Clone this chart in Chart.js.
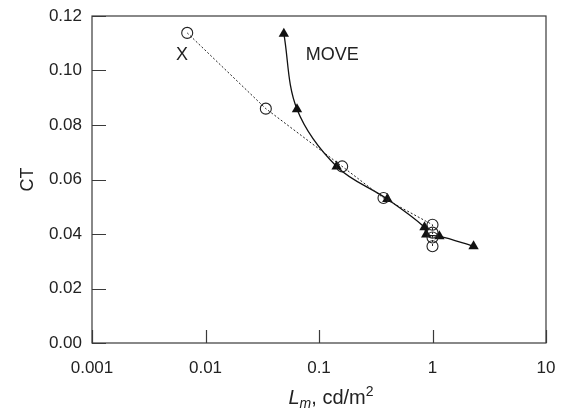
<!DOCTYPE html>
<html>
<head>
<meta charset="utf-8">
<script src="https://cdn.jsdelivr.net/npm/chart.js@4"></script>
<style>
html,body{margin:0;padding:0;background:#fff;}
#wrap{width:566px;height:412px;position:relative;}
</style>
</head>
<body>
<div id="wrap"><canvas id="c" width="566" height="412"></canvas></div>
<script>
// ---- data ----
const xLum = [0.0069, 0.034, 0.16, 0.37, 1.0, 1.0, 1.0, 1.0];
const xCT  = [0.1138, 0.086, 0.0648, 0.0532, 0.0434, 0.0405, 0.0387, 0.0355];
const moveLum = [0.049, 0.064, 0.143, 0.40, 0.85, 0.88, 1.15, 2.3];
const moveCT  = [0.1135, 0.0858, 0.0648, 0.0528, 0.0425, 0.0398, 0.0392, 0.0355];
const xTickValues = [0.001, 0.01, 0.1, 1, 10];
const xTickLabels = ['0.001', '0.01', '0.1', '1', '10'];
const yTickValues = [0, 0.02, 0.04, 0.06, 0.08, 0.1, 0.12];
const seriesNames = ['X', 'MOVE'];
const labelAnchors = [{x: 0.0062, y: 0.1058, align: 'center'}, {x: 0.0764, y: 0.1058, align: 'left'}];

const FONT = '"Liberation Sans", Arial, sans-serif';
const AX = '#3a3a3a';
const TXT = '#222';

const toPts = (xs, ys) => xs.map((v, i) => ({x: v, y: ys[i]}));

const innerTicks = {
  id: 'innerTicks',
  afterDraw(chart) {
    const ctx = chart.ctx, a = chart.chartArea;
    const xs = chart.scales.x, ys = chart.scales.y;
    ctx.save();
    ctx.strokeStyle = AX; ctx.lineWidth = 1.2;
    ctx.strokeRect(a.left, a.top, a.right - a.left, a.bottom - a.top);
    ctx.beginPath();
    xTickValues.forEach(v => {
      const px = Math.round(xs.getPixelForValue(v)) + 0.5;
      ctx.moveTo(px, a.bottom); ctx.lineTo(px, a.bottom - 13);
    });
    yTickValues.forEach(v => {
      const py = Math.round(ys.getPixelForValue(v)) + 0.5;
      ctx.moveTo(a.left, py); ctx.lineTo(a.left + 14, py);
    });
    ctx.stroke();
    // series labels
    ctx.fillStyle = TXT;
    ctx.font = '18px ' + FONT;
    ctx.textBaseline = 'middle';
    seriesNames.forEach((n, i) => {
      const an = labelAnchors[i];
      ctx.textAlign = an.align;
      ctx.fillText(n, xs.getPixelForValue(an.x), ys.getPixelForValue(an.y));
    });
    // x axis title: L_m, cd/m^2
    const cx = (a.left + a.right) / 2 + 12, cy = 397;
    const parts = [
      {t: 'L', f: 'italic 20px ' + FONT, dy: 0},
      {t: 'm', f: 'italic 14px ' + FONT, dy: 4},
      {t: ', cd/m', f: '20px ' + FONT, dy: 0},
      {t: '2', f: '14px ' + FONT, dy: -8}
    ];
    let w = 0;
    parts.forEach(p => { ctx.font = p.f; p.w = ctx.measureText(p.t).width; w += p.w; });
    let x0 = cx - w / 2;
    ctx.textAlign = 'left';
    ctx.textBaseline = 'alphabetic';
    parts.forEach(p => { ctx.font = p.f; ctx.fillText(p.t, x0, cy + 7 + p.dy); x0 += p.w; });
    ctx.restore();
  }
};

new Chart(document.getElementById('c'), {
  type: 'scatter',
  data: {
    datasets: [
      {
        label: seriesNames[0],
        data: toPts(xLum, xCT),
        showLine: true,
        borderColor: '#222',
        borderWidth: 1,
        borderDash: [2, 2],
        pointStyle: 'circle',
        pointRadius: 5.5,
        pointBorderWidth: 1.1,
        pointBorderColor: '#222',
        pointBackgroundColor: 'rgba(255,255,255,0)',
        tension: 0
      },
      {
        label: seriesNames[1],
        data: toPts(moveLum, moveCT),
        showLine: true,
        borderColor: '#111',
        borderWidth: 1.3,
        pointStyle: 'triangle',
        pointRadius: 6,
        pointBorderWidth: 0,
        pointBackgroundColor: '#111',
        tension: 0.35
      }
    ]
  },
  options: {
    responsive: false,
    animation: false,
    devicePixelRatio: 1,
    layout: {padding: {left: 0, right: 20, top: 16, bottom: 0}},
    plugins: {legend: {display: false}, tooltip: {enabled: false}},
    scales: {
      x: {
        type: 'logarithmic',
        min: 0.001, max: 10,
        afterBuildTicks: s => { s.ticks = xTickValues.map(v => ({value: v})); },
        afterFit: s => { s.height = 69; s.paddingLeft = 0; s.paddingRight = 0; },
        grid: {display: false, drawTicks: false},
        border: {display: false},
        ticks: {
          padding: 15,
          color: TXT,
          font: {family: FONT, size: 17},
          maxRotation: 0,
          autoSkip: false,
          callback: (v) => { const i = xTickValues.indexOf(v); return i >= 0 ? xTickLabels[i] : ''; }
        }
      },
      y: {
        min: 0, max: 0.12,
        afterBuildTicks: s => { s.ticks = yTickValues.map(v => ({value: v})); },
        afterFit: s => { s.width = 92; s.paddingTop = 0; s.paddingBottom = 0; },
        grid: {display: false, drawTicks: false},
        border: {display: false},
        ticks: {
          padding: 10,
          color: TXT,
          font: {family: FONT, size: 17},
          callback: v => Number(v).toFixed(2)
        },
        title: {display: true, text: 'CT', color: TXT, font: {family: FONT, size: 18}, padding: {top: 17, bottom: 0}}
      }
    }
  },
  plugins: [innerTicks]
});
</script>
</body>
</html>
